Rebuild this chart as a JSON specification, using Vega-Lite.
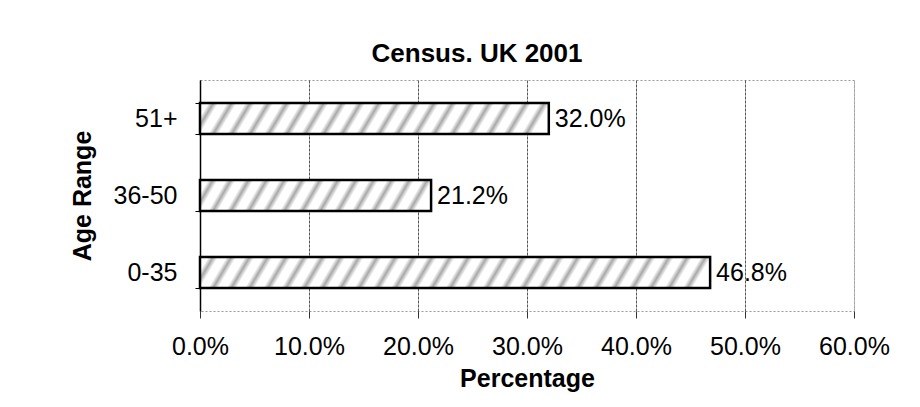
{
  "$schema": "https://vega.github.io/schema/vega-lite/v6.json",
  "width": 654,
  "height": 231,
  "autosize": {"type": "none"},
  "padding": {"left": 200, "top": 80, "right": 66, "bottom": 96},
  "background": "white",
  "title": {
    "text": "Census. UK 2001",
    "font": "Liberation Sans",
    "fontSize": 26,
    "fontWeight": "bold",
    "color": "black",
    "anchor": "middle",
    "dx": -50,
    "offset": 1
  },
  "data": {
    "values": [
      {"age": "51+", "pct": 0.32},
      {"age": "36-50", "pct": 0.212},
      {"age": "0-35", "pct": 0.468}
    ]
  },
  "encoding": {
    "y": {
      "field": "age",
      "type": "nominal",
      "sort": ["51+", "36-50", "0-35"],
      "scale": {"paddingInner": 0.6, "paddingOuter": 0.3},
      "axis": {
        "title": "Age Range",
        "titleFont": "Liberation Sans",
        "titleFontSize": 25,
        "titleFontWeight": "bold",
        "titleColor": "black",
        "titlePadding": 18,
        "labelFont": "Liberation Sans",
        "labelFontSize": 25,
        "labelColor": "black",
        "labelPadding": 18,
        "tickBand": "extent",
        "tickSize": 5,
        "tickColor": "black",
        "domainColor": "black",
        "domainWidth": 1.5,
        "grid": false
      }
    },
    "x": {
      "field": "pct",
      "type": "quantitative",
      "scale": {"domain": [0, 0.6], "nice": false},
      "axis": {
        "title": "Percentage",
        "titleFont": "Liberation Sans",
        "titleFontSize": 25,
        "titleFontWeight": "bold",
        "titleColor": "black",
        "titlePadding": 7,
        "format": ".1%",
        "values": [0, 0.1, 0.2, 0.3, 0.4, 0.5, 0.6],
        "labelFlush": false,
        "labelFont": "Liberation Sans",
        "labelFontSize": 25,
        "labelColor": "black",
        "labelPadding": 16,
        "tickSize": 7,
        "tickColor": "#333",
        "domain": false,
        "grid": true,
        "gridColor": {"condition": {"test": "datum.value >= 0.6", "value": "#aaaaaa"}, "value": "#555555"},
        "gridDash": [3, 1]
      }
    }
  },
  "layer": [
    {
      "mark": {"type": "bar", "stroke": "black", "strokeWidth": 2.5},
      "encoding": {
        "fill": {
          "condition": [
            {
              "test": "datum.age === '0-35'",
              "value": {
                "gradient": "linear", "x1": 0, "y1": 0, "x2": 1, "y2": 0.0357,
                "stops": [
                  {"offset": 0, "color": "#ffffff"}, {"offset": 0.0161, "color": "#ffffff"}, {"offset": 0.0257, "color": "#a8a8a8"},
                  {"offset": 0.0357, "color": "#ffffff"}, {"offset": 0.0518, "color": "#ffffff"}, {"offset": 0.0614, "color": "#a8a8a8"},
                  {"offset": 0.0714, "color": "#ffffff"}, {"offset": 0.0875, "color": "#ffffff"}, {"offset": 0.0971, "color": "#a8a8a8"},
                  {"offset": 0.1071, "color": "#ffffff"}, {"offset": 0.1232, "color": "#ffffff"}, {"offset": 0.1328, "color": "#a8a8a8"},
                  {"offset": 0.1429, "color": "#ffffff"}, {"offset": 0.1589, "color": "#ffffff"}, {"offset": 0.1686, "color": "#a8a8a8"},
                  {"offset": 0.1786, "color": "#ffffff"}, {"offset": 0.1946, "color": "#ffffff"}, {"offset": 0.2043, "color": "#a8a8a8"},
                  {"offset": 0.2143, "color": "#ffffff"}, {"offset": 0.2304, "color": "#ffffff"}, {"offset": 0.24, "color": "#a8a8a8"},
                  {"offset": 0.25, "color": "#ffffff"}, {"offset": 0.2661, "color": "#ffffff"}, {"offset": 0.2757, "color": "#a8a8a8"},
                  {"offset": 0.2857, "color": "#ffffff"}, {"offset": 0.3018, "color": "#ffffff"}, {"offset": 0.3114, "color": "#a8a8a8"},
                  {"offset": 0.3214, "color": "#ffffff"}, {"offset": 0.3375, "color": "#ffffff"}, {"offset": 0.3471, "color": "#a8a8a8"},
                  {"offset": 0.3571, "color": "#ffffff"}, {"offset": 0.3732, "color": "#ffffff"}, {"offset": 0.3829, "color": "#a8a8a8"},
                  {"offset": 0.3929, "color": "#ffffff"}, {"offset": 0.4089, "color": "#ffffff"}, {"offset": 0.4186, "color": "#a8a8a8"},
                  {"offset": 0.4286, "color": "#ffffff"}, {"offset": 0.4446, "color": "#ffffff"}, {"offset": 0.4543, "color": "#a8a8a8"},
                  {"offset": 0.4643, "color": "#ffffff"}, {"offset": 0.4804, "color": "#ffffff"}, {"offset": 0.49, "color": "#a8a8a8"},
                  {"offset": 0.5, "color": "#ffffff"}, {"offset": 0.5161, "color": "#ffffff"}, {"offset": 0.5257, "color": "#a8a8a8"},
                  {"offset": 0.5357, "color": "#ffffff"}, {"offset": 0.5518, "color": "#ffffff"}, {"offset": 0.5614, "color": "#a8a8a8"},
                  {"offset": 0.5714, "color": "#ffffff"}, {"offset": 0.5875, "color": "#ffffff"}, {"offset": 0.5971, "color": "#a8a8a8"},
                  {"offset": 0.6071, "color": "#ffffff"}, {"offset": 0.6232, "color": "#ffffff"}, {"offset": 0.6328, "color": "#a8a8a8"},
                  {"offset": 0.6429, "color": "#ffffff"}, {"offset": 0.6589, "color": "#ffffff"}, {"offset": 0.6686, "color": "#a8a8a8"},
                  {"offset": 0.6786, "color": "#ffffff"}, {"offset": 0.6946, "color": "#ffffff"}, {"offset": 0.7043, "color": "#a8a8a8"},
                  {"offset": 0.7143, "color": "#ffffff"}, {"offset": 0.7304, "color": "#ffffff"}, {"offset": 0.74, "color": "#a8a8a8"},
                  {"offset": 0.75, "color": "#ffffff"}, {"offset": 0.7661, "color": "#ffffff"}, {"offset": 0.7757, "color": "#a8a8a8"},
                  {"offset": 0.7857, "color": "#ffffff"}, {"offset": 0.8018, "color": "#ffffff"}, {"offset": 0.8114, "color": "#a8a8a8"},
                  {"offset": 0.8214, "color": "#ffffff"}, {"offset": 0.8375, "color": "#ffffff"}, {"offset": 0.8471, "color": "#a8a8a8"},
                  {"offset": 0.8571, "color": "#ffffff"}, {"offset": 0.8732, "color": "#ffffff"}, {"offset": 0.8829, "color": "#a8a8a8"},
                  {"offset": 0.8929, "color": "#ffffff"}, {"offset": 0.9089, "color": "#ffffff"}, {"offset": 0.9186, "color": "#a8a8a8"},
                  {"offset": 0.9286, "color": "#ffffff"}, {"offset": 0.9446, "color": "#ffffff"}, {"offset": 0.9543, "color": "#a8a8a8"},
                  {"offset": 0.9643, "color": "#ffffff"}, {"offset": 0.9804, "color": "#ffffff"}, {"offset": 0.99, "color": "#a8a8a8"},
                  {"offset": 1, "color": "#ffffff"}
                ]
              }
            },
            {
              "test": "datum.age === '36-50'",
              "value": {
                "gradient": "linear", "x1": 0, "y1": 0, "x2": 1, "y2": 0.0769,
                "stops": [
                  {"offset": 0, "color": "#ffffff"}, {"offset": 0.0346, "color": "#ffffff"}, {"offset": 0.0554, "color": "#a8a8a8"},
                  {"offset": 0.0769, "color": "#ffffff"}, {"offset": 0.1115, "color": "#ffffff"}, {"offset": 0.1323, "color": "#a8a8a8"},
                  {"offset": 0.1538, "color": "#ffffff"}, {"offset": 0.1885, "color": "#ffffff"}, {"offset": 0.2092, "color": "#a8a8a8"},
                  {"offset": 0.2308, "color": "#ffffff"}, {"offset": 0.2654, "color": "#ffffff"}, {"offset": 0.2862, "color": "#a8a8a8"},
                  {"offset": 0.3077, "color": "#ffffff"}, {"offset": 0.3423, "color": "#ffffff"}, {"offset": 0.3631, "color": "#a8a8a8"},
                  {"offset": 0.3846, "color": "#ffffff"}, {"offset": 0.4192, "color": "#ffffff"}, {"offset": 0.44, "color": "#a8a8a8"},
                  {"offset": 0.4615, "color": "#ffffff"}, {"offset": 0.4962, "color": "#ffffff"}, {"offset": 0.5169, "color": "#a8a8a8"},
                  {"offset": 0.5385, "color": "#ffffff"}, {"offset": 0.5731, "color": "#ffffff"}, {"offset": 0.5938, "color": "#a8a8a8"},
                  {"offset": 0.6154, "color": "#ffffff"}, {"offset": 0.65, "color": "#ffffff"}, {"offset": 0.6708, "color": "#a8a8a8"},
                  {"offset": 0.6923, "color": "#ffffff"}, {"offset": 0.7269, "color": "#ffffff"}, {"offset": 0.7477, "color": "#a8a8a8"},
                  {"offset": 0.7692, "color": "#ffffff"}, {"offset": 0.8038, "color": "#ffffff"}, {"offset": 0.8246, "color": "#a8a8a8"},
                  {"offset": 0.8462, "color": "#ffffff"}, {"offset": 0.8808, "color": "#ffffff"}, {"offset": 0.9015, "color": "#a8a8a8"},
                  {"offset": 0.9231, "color": "#ffffff"}, {"offset": 0.9577, "color": "#ffffff"}, {"offset": 0.9785, "color": "#a8a8a8"},
                  {"offset": 1, "color": "#ffffff"}
                ]
              }
            }
          ],
          "value": {
            "gradient": "linear", "x1": 0, "y1": 0, "x2": 1, "y2": 0.0526,
            "stops": [
              {"offset": 0, "color": "#ffffff"}, {"offset": 0.0237, "color": "#ffffff"}, {"offset": 0.0379, "color": "#a8a8a8"},
              {"offset": 0.0526, "color": "#ffffff"}, {"offset": 0.0763, "color": "#ffffff"}, {"offset": 0.0905, "color": "#a8a8a8"},
              {"offset": 0.1053, "color": "#ffffff"}, {"offset": 0.1289, "color": "#ffffff"}, {"offset": 0.1432, "color": "#a8a8a8"},
              {"offset": 0.1579, "color": "#ffffff"}, {"offset": 0.1816, "color": "#ffffff"}, {"offset": 0.1958, "color": "#a8a8a8"},
              {"offset": 0.2105, "color": "#ffffff"}, {"offset": 0.2342, "color": "#ffffff"}, {"offset": 0.2484, "color": "#a8a8a8"},
              {"offset": 0.2632, "color": "#ffffff"}, {"offset": 0.2868, "color": "#ffffff"}, {"offset": 0.3011, "color": "#a8a8a8"},
              {"offset": 0.3158, "color": "#ffffff"}, {"offset": 0.3395, "color": "#ffffff"}, {"offset": 0.3537, "color": "#a8a8a8"},
              {"offset": 0.3684, "color": "#ffffff"}, {"offset": 0.3921, "color": "#ffffff"}, {"offset": 0.4063, "color": "#a8a8a8"},
              {"offset": 0.4211, "color": "#ffffff"}, {"offset": 0.4447, "color": "#ffffff"}, {"offset": 0.4589, "color": "#a8a8a8"},
              {"offset": 0.4737, "color": "#ffffff"}, {"offset": 0.4974, "color": "#ffffff"}, {"offset": 0.5116, "color": "#a8a8a8"},
              {"offset": 0.5263, "color": "#ffffff"}, {"offset": 0.55, "color": "#ffffff"}, {"offset": 0.5642, "color": "#a8a8a8"},
              {"offset": 0.5789, "color": "#ffffff"}, {"offset": 0.6026, "color": "#ffffff"}, {"offset": 0.6168, "color": "#a8a8a8"},
              {"offset": 0.6316, "color": "#ffffff"}, {"offset": 0.6553, "color": "#ffffff"}, {"offset": 0.6695, "color": "#a8a8a8"},
              {"offset": 0.6842, "color": "#ffffff"}, {"offset": 0.7079, "color": "#ffffff"}, {"offset": 0.7221, "color": "#a8a8a8"},
              {"offset": 0.7368, "color": "#ffffff"}, {"offset": 0.7605, "color": "#ffffff"}, {"offset": 0.7747, "color": "#a8a8a8"},
              {"offset": 0.7895, "color": "#ffffff"}, {"offset": 0.8132, "color": "#ffffff"}, {"offset": 0.8274, "color": "#a8a8a8"},
              {"offset": 0.8421, "color": "#ffffff"}, {"offset": 0.8658, "color": "#ffffff"}, {"offset": 0.88, "color": "#a8a8a8"},
              {"offset": 0.8947, "color": "#ffffff"}, {"offset": 0.9184, "color": "#ffffff"}, {"offset": 0.9326, "color": "#a8a8a8"},
              {"offset": 0.9474, "color": "#ffffff"}, {"offset": 0.9711, "color": "#ffffff"}, {"offset": 0.9853, "color": "#a8a8a8"},
              {"offset": 1, "color": "#ffffff"}
            ]
          }
        }
      }
    },
    {
      "mark": {
        "type": "text",
        "align": "left",
        "baseline": "middle",
        "dx": 6,
        "font": "Liberation Sans",
        "fontSize": 25,
        "color": "black"
      },
      "encoding": {
        "text": {"field": "pct", "type": "quantitative", "format": ".1%"}
      }
    }
  ],
  "config": {
    "view": {"stroke": "#999999", "strokeDash": [2, 2], "strokeWidth": 1}
  }
}
